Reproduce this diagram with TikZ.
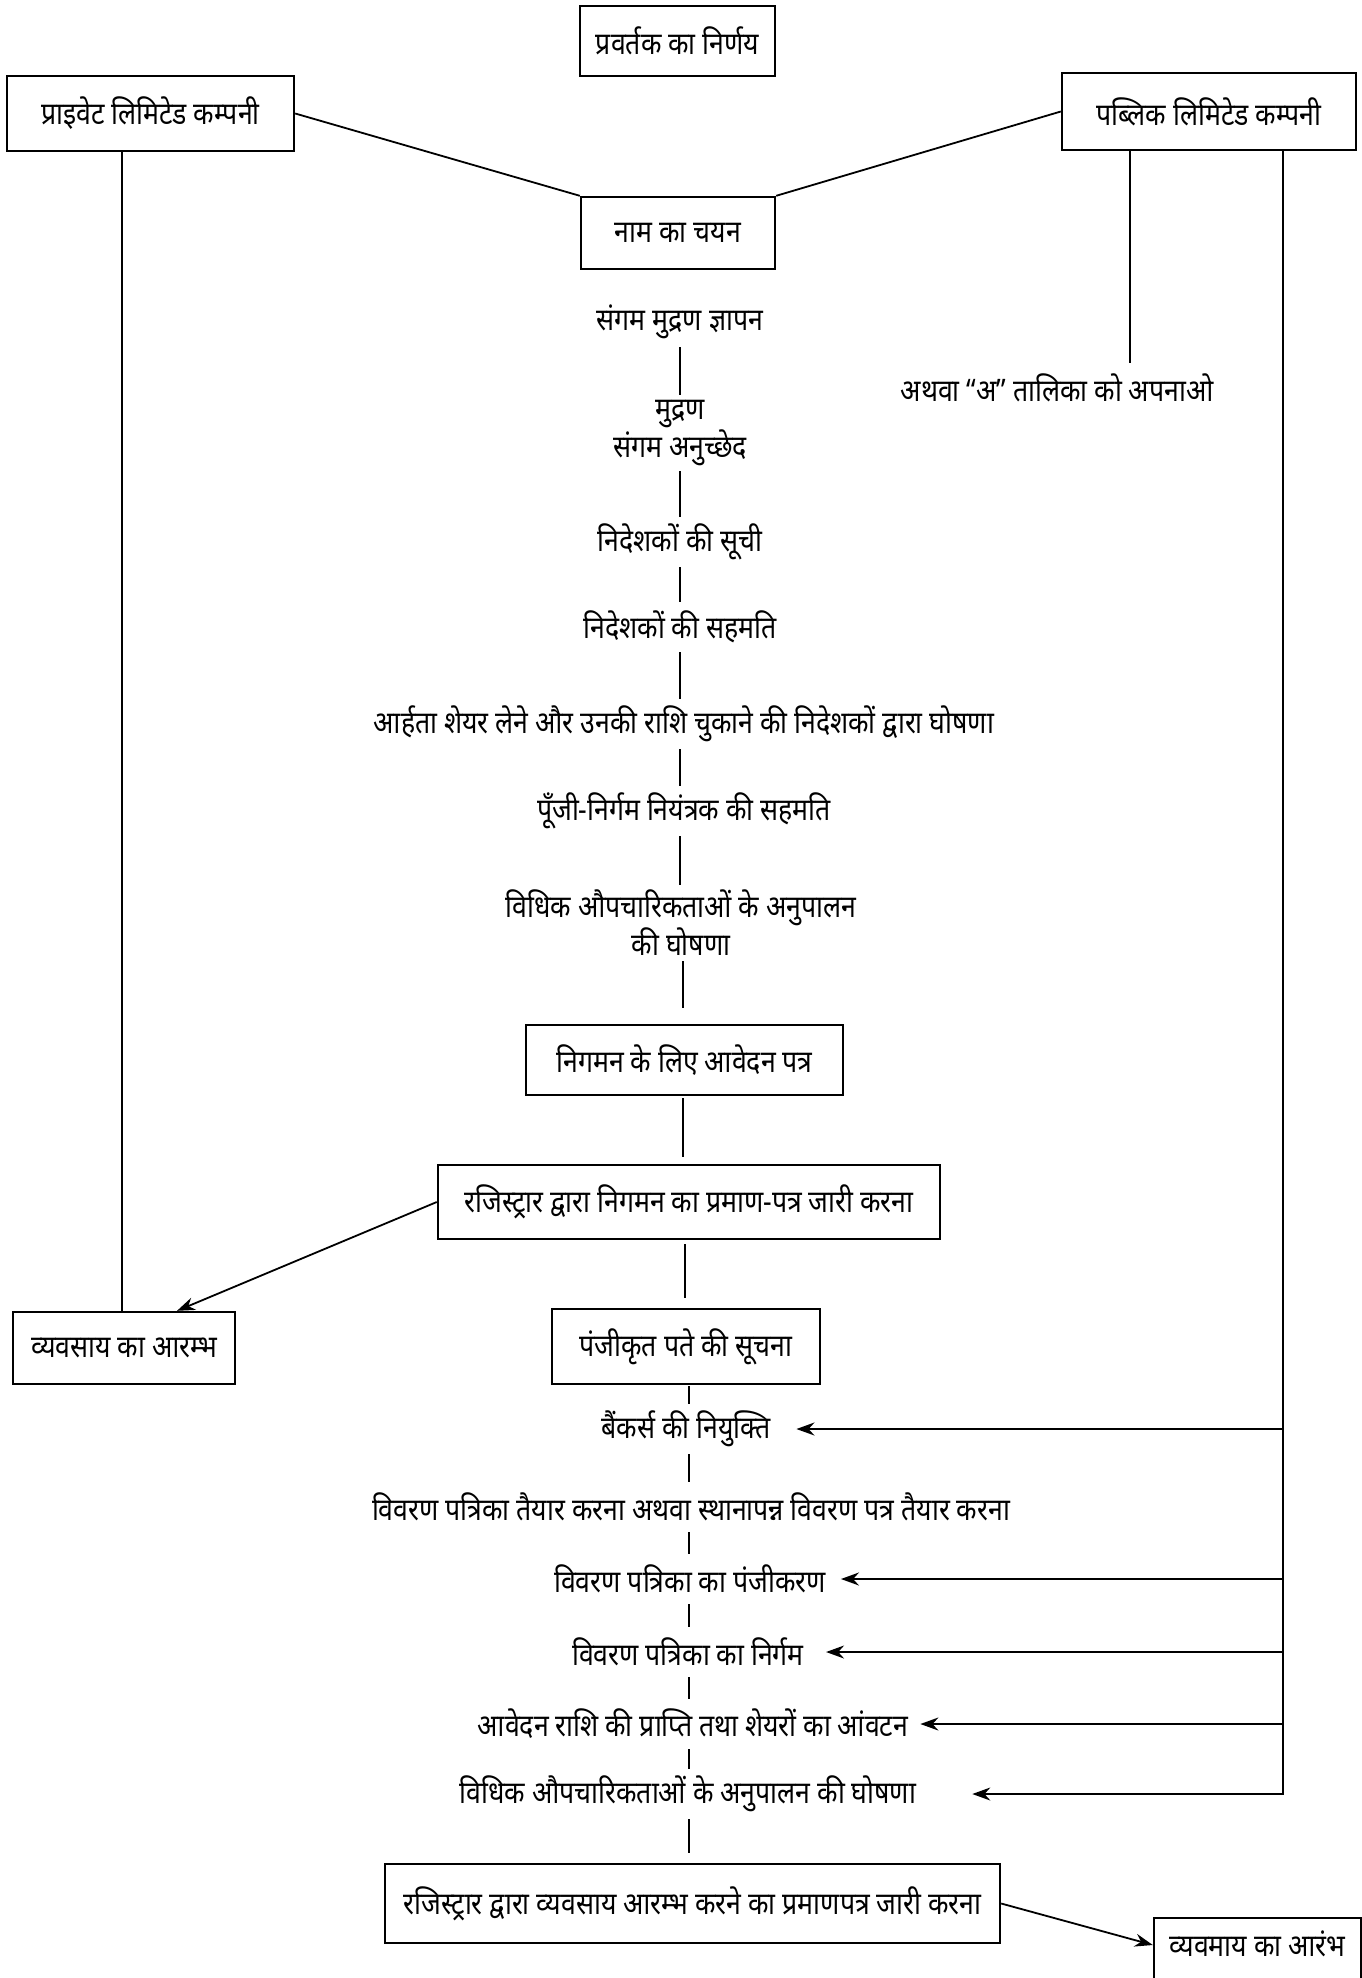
\documentclass[tikz,border=0pt]{standalone}
\usepackage{fontspec}
\setmainfont{Noto Sans}[Script=Devanagari, FakeStretch=0.86]
\usetikzlibrary{arrows.meta,calc}

\begin{document}
\begin{tikzpicture}[x=1pt,y=-1pt,
  conn/.style={line width=1.8pt},
  arr/.style={conn,-{Stealth[length=18pt,width=13pt]}},
  txt/.style={font=\fontsize{31}{38}\selectfont},
  boxnode/.style={txt,draw,line width=2.4pt,inner sep=0pt},
  stepnote/.style={txt,inner sep=0pt,minimum height=50pt,align=center},
  twoline/.style={stepnote,inner ysep=5pt},
]
\useasboundingbox (0,0) rectangle (1361,1978);

% guide coordinates for the long vertical rails and the chain's links
\coordinate (lv) at (122,0);
\coordinate (pv) at (1130,0);
\coordinate (rv) at (1283,0);
\coordinate (colA) at (680,0);
\coordinate (colB) at (683,0);
\coordinate (colC) at (685,0);
\coordinate (colD) at (689,0);

% top boxes
\node[boxnode,minimum width=195pt,minimum height=70pt] (pravartak) at (677.5,41) {प्रवर्तक का निर्णय};
\node[boxnode,minimum width=287pt,minimum height=75pt] (priv) at (150.5,113.5) {प्राइवेट लिमिटेड कम्पनी};
\node[boxnode,minimum width=294pt,minimum height=77pt] (pub) at (1209,111.5) {पब्लिक लिमिटेड कम्पनी};
\node[boxnode,minimum width=194pt,minimum height=72pt] (naam) at (678,233) {नाम का चयन};
\node[stepnote] (talika) at (1057,388) {अथवा “अ” तालिका को अपनाओ};

% central chain
\node[stepnote] (c1) at (680,322) {संगम मुद्रण ज्ञापन};
\node[twoline] (c2) at (680,433) {मुद्रण\\संगम अनुच्छेद};
\node[stepnote] (c3) at (680,542) {निदेशकों की सूची};
\node[stepnote] (c4) at (680,627) {निदेशकों की सहमति};
\node[stepnote] (c5) at (684,724) {आर्हता शेयर लेने और उनकी राशि चुकाने की निदेशकों द्वारा घोषणा};
\node[stepnote] (c6) at (684,811) {पूँजी-निर्गम नियंत्रक की सहमति};
\node[twoline] (c7) at (681,923) {विधिक औपचारिकताओं के अनुपालन\\की घोषणा};
\node[boxnode,minimum width=317pt,minimum height=70pt] (b1) at (684.5,1060) {निगमन के लिए आवेदन पत्र};
\node[boxnode,minimum width=502pt,minimum height=74pt] (b2) at (689,1202) {रजिस्ट्रार द्वारा निगमन का प्रमाण-पत्र जारी करना};
\node[boxnode,minimum width=222pt,minimum height=72pt] (lbox) at (124,1348) {व्यवसाय का आरम्भ};
\node[boxnode,minimum width=268pt,minimum height=75pt] (b3) at (686,1346.5) {पंजीकृत पते की सूचना};
\node[stepnote] (c8) at (686,1429) {बैंकर्स की नियुक्ति};
\node[stepnote] (c9) at (691,1507) {विवरण पत्रिका तैयार करना अथवा स्थानापन्न विवरण पत्र तैयार करना};
\node[stepnote] (c10) at (690,1579) {विवरण पत्रिका का पंजीकरण};
\node[stepnote] (c11) at (688,1652) {विवरण पत्रिका का निर्गम};
\node[stepnote] (c12) at (693,1724) {आवेदन राशि की प्राप्ति तथा शेयरों का आंवटन};
\node[stepnote] (c13) at (688,1794) {विधिक औपचारिकताओं के अनुपालन की घोषणा};
\node[boxnode,minimum width=615pt,minimum height=79pt] (b4) at (692.5,1903.5) {रजिस्ट्रार द्वारा व्यवसाय आरम्भ करने का प्रमाणपत्र जारी करना};
\node[boxnode,anchor=north,minimum width=207pt,text height=38pt,text depth=40pt] (rbox) at (1257.5,1917) {व्यवमाय का आरंभ};

% company boxes to name selection
\draw[conn] (priv.east) -- (naam.north west);
\draw[conn] (pub.west) -- (naam.north east);

% rails
\draw[conn] (priv.south -| lv) -- (lbox.north -| lv);
\draw[conn] (pub.south -| pv) -- (talika.north -| pv);

% vertical links of the chain
\draw[conn] (c1.south -| colA) -- (c2.north -| colA);
\draw[conn] (c2.south -| colA) -- (c3.north -| colA);
\draw[conn] (c3.south -| colA) -- (c4.north -| colA);
\draw[conn] (c4.south -| colA) -- (c5.north -| colA);
\draw[conn] (c5.south -| colA) -- (c6.north -| colA);
\draw[conn] (c6.south -| colA) -- (c7.north -| colA);
\draw[conn,shorten >=16pt] (c7.south -| colB) -- (b1.north -| colB);
\draw[conn,shorten <=2pt,shorten >=7pt] (b1.south -| colB) -- (b2.north -| colB);
\draw[conn,shorten <=4pt,shorten >=10pt] (b2.south -| colC) -- (b3.north -| colC);
\draw[conn,shorten <=1pt] (b3.south -| colD) -- (c8.north -| colD);
\draw[conn] (c8.south -| colD) -- (c9.north -| colD);
\draw[conn] (c9.south -| colD) -- (c10.north -| colD);
\draw[conn] (c10.south -| colD) -- (c11.north -| colD);
\draw[conn] (c11.south -| colD) -- (c12.north -| colD);
\draw[conn] (c12.south -| colD) -- (c13.north -| colD);
\draw[conn,shorten >=10pt] (c13.south -| colD) -- (b4.north -| colD);

% start of business
\draw[arr] (b2.west) -- ($(lbox.north)+(53,0)$);
\draw[arr] (b4.east) -- ($(rbox.north west)+(0,28)$);

% public company requirements
\draw[arr,shorten >=26pt] (c8 -| rv) -- (c8.east);
\draw[arr,shorten >=15pt] (c10 -| rv) -- (c10.east);
\draw[arr,shorten >=22pt] (c11 -| rv) -- (c11.east);
\draw[arr,shorten >=12pt] (c12 -| rv) -- (c12.east);
\draw[arr,shorten >=56pt] (pub.south -| rv) -- (c13 -| rv) -- (c13.east);
\end{tikzpicture}
\end{document}
